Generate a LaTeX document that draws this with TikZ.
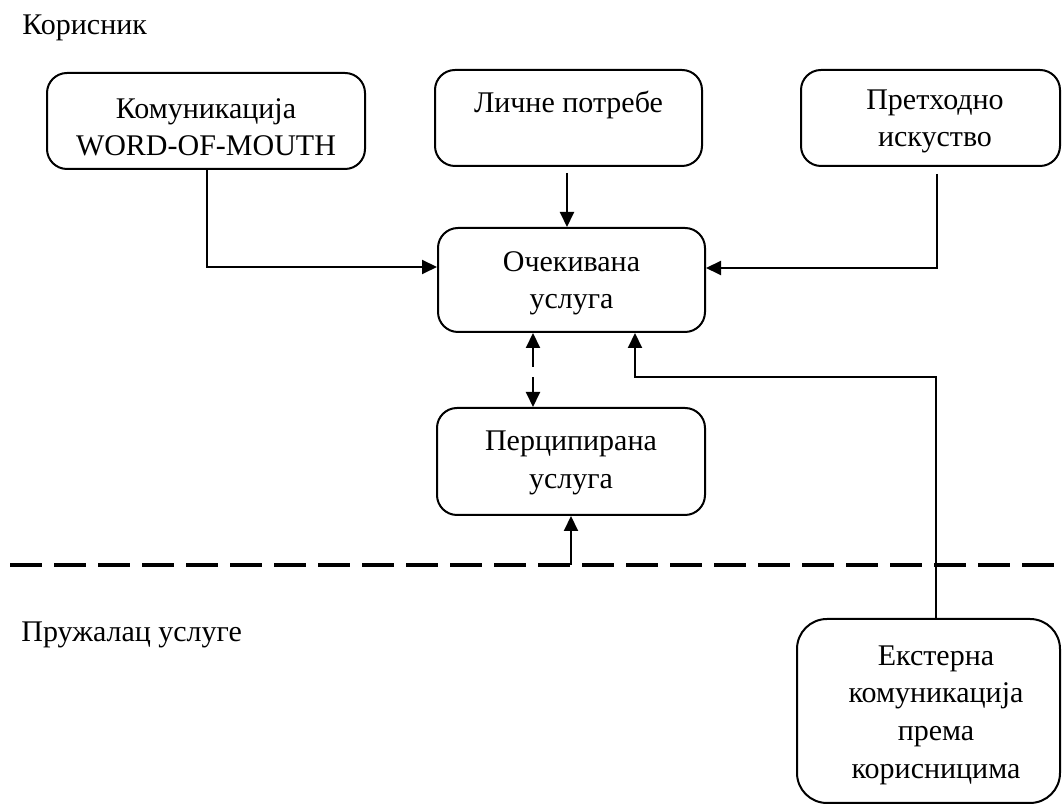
\documentclass[tikz,border=0pt]{standalone}
\usepackage{fontspec}
\setmainfont{Liberation Serif}
\usetikzlibrary{arrows.meta,calc}

\tikzset{
  box/.style={draw, line width=1pt, rounded corners=10pt, inner sep=0pt},
  boxtext/.style={align=center, inner sep=0pt, font=\fontsize{15pt}{18.5pt}\selectfont},
  side/.style={anchor=base west, inner sep=0pt, font=\fontsize{15pt}{18.5pt}\selectfont},
  link/.style={line width=1pt},
  tip/.style={Triangle[length=7.5pt,width=7pt]},
  arr/.style={link, -{Triangle[length=7.5pt,width=7pt]}},
  twoway/.style={link, dash pattern=on 10pt off 5pt,
    {Triangle[length=7.5pt,width=7pt]}-{Triangle[length=7.5pt,width=7pt]}},
  border/.style={line width=2pt, dash pattern=on 16pt off 6pt}
}

\begin{document}
\begin{tikzpicture}[x=0.5pt, y=-0.5pt]
  \useasboundingbox (0,0) rectangle (1062,806);

  % side captions
  \node[side] (user) at (22,35) {Корисник};
  \node[side] (provider) at (21,642) {Пружалац услуге};

  % boxes of the customer side
  \node[box, minimum width=159pt, minimum height=48pt] (wom) at (206,121) {};
  \node[boxtext] (womt) at (206,127) {Комуникација\\WORD-OF-MOUTH};

  \node[box, minimum width=133.5pt, minimum height=48pt] (needs) at (568.5,118) {};
  \node[boxtext] (needst) at (568.5,105) {Личне потребе};

  \node[box, minimum width=129.5pt, minimum height=48pt] (past) at (930.5,118) {};
  \node[boxtext] (pastt) at (935,121) {Претходно\\искуство};

  \node[box, minimum width=133.5pt, minimum height=52pt] (exp) at (571.5,280) {};
  \node[boxtext] (expt) at (571.5,283) {Очекивана\\услуга};

  \node[box, minimum width=134pt, minimum height=53.5pt] (perc) at (571,461.5) {};
  \node[boxtext, font=\fontsize{15pt}{19pt}\selectfont] (perct) at (571,463) {Перципирана\\услуга};

  % box of the provider side
  \node[box, rounded corners=15pt, minimum width=131.5pt, minimum height=92pt] (ext) at (928.5,711) {};
  \node[boxtext, font=\fontsize{15pt}{18.8pt}\selectfont] (extt) at (936,715) {Екстерна\\комуникација\\према\\корисницима};

  % border between customer and provider
  \coordinate (lineL) at (10,565);
  \coordinate (lineR) at (1062,565);
  \draw[border] (lineL) -- (lineR);

  % connectors
  \draw[arr] (wom.south -| 207,0) |- (exp.west |- 0,267);
  \draw[arr, shorten <=3pt] (needs.south -| 567,0) -- (exp.north -| 567,0);
  \draw[arr, shorten <=3.5pt] (past.south -| 937,0) |- (exp.east |- 0,268);
  \draw[twoway] (exp.south -| 533,0) -- (perc.north -| 533,0);
  \draw[arr] (lineL -| 571,0) -- (perc.south -| 571,0);
  \draw[arr] (ext.north -| 936,0) |- (635,377) -- (exp.south -| 635,0);
\end{tikzpicture}
\end{document}
